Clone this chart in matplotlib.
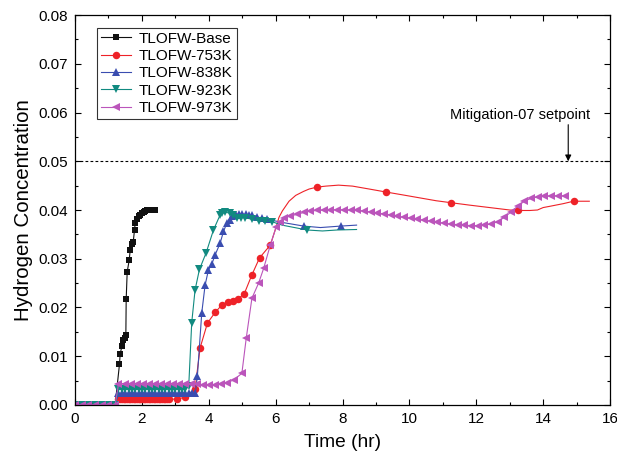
import matplotlib
matplotlib.use("Agg")
import matplotlib.pyplot as plt

plt.rcParams['font.family'] = ['Liberation Sans', 'DejaVu Sans']

# ---------------- data ----------------
base_t = [0.0, 0.1, 0.2, 0.3, 0.4, 0.5, 0.6, 0.7, 0.8, 0.9, 1.0, 1.1, 1.2,
          1.33, 1.35, 1.40, 1.44, 1.48, 1.52, 1.53, 1.56, 1.62, 1.65, 1.70, 1.74,
          1.78, 1.80, 1.85, 1.90, 1.95, 2.00, 2.05, 2.10, 2.16, 2.20, 2.25, 2.30, 2.35, 2.40]
base_y = [0, 0, 0, 0, 0, 0, 0, 0, 0, 0, 0, 0, 0,
          0.0084, 0.0105, 0.0120, 0.0133, 0.0138, 0.0144, 0.0217, 0.0273, 0.0297, 0.0318, 0.0330, 0.0334,
          0.0360, 0.0373, 0.0382, 0.0388, 0.0390, 0.0394, 0.0396, 0.0398, 0.0399, 0.0400, 0.0400, 0.0401, 0.0401, 0.0401]

k753_t = [0.0, 0.2, 0.4, 0.6, 0.8, 1.0, 1.2,
          1.30, 1.35, 1.40, 1.45, 1.50, 1.55, 1.60, 1.65, 1.70, 1.75, 1.80, 1.85, 1.90, 1.95,
          2.00, 2.05, 2.10, 2.15, 2.20, 2.25, 2.30, 2.35, 2.40, 2.45, 2.50, 2.55, 2.60, 2.65,
          2.70, 2.75, 2.80, 3.05, 3.29, 3.59, 3.74, 3.96, 4.19, 4.39, 4.58, 4.72, 4.86, 5.06,
          5.29, 5.52, 5.84, 6.00, 6.10, 6.20, 6.40, 6.60, 6.83, 7.00, 7.24, 7.50, 7.88, 8.30,
          8.80, 9.29, 9.80, 10.30, 10.80, 11.24, 11.80, 12.40, 13.00, 13.26, 13.60, 13.83,
          14.00, 14.23, 14.60, 14.91, 15.20, 15.38]
k753_y = [0, 0, 0, 0, 0, 0, 0,
          0.0012, 0.0012, 0.0012, 0.0012, 0.0012, 0.0012, 0.0012, 0.0012, 0.0012, 0.0012, 0.0012, 0.0012, 0.0012, 0.0012,
          0.0012, 0.0012, 0.0012, 0.0012, 0.0012, 0.0012, 0.0012, 0.0012, 0.0012, 0.0012, 0.0012, 0.0012, 0.0012, 0.0012,
          0.0012, 0.0012, 0.0012, 0.0012, 0.0016, 0.0033, 0.0117, 0.0168, 0.0190, 0.0205, 0.0211, 0.0213, 0.0217, 0.0228,
          0.0267, 0.0302, 0.0328, 0.0362, 0.0385, 0.0398, 0.0418, 0.0430, 0.0438, 0.0443, 0.0447, 0.0449, 0.0451, 0.0449,
          0.0443, 0.0437, 0.0431, 0.0425, 0.0419, 0.0415, 0.0410, 0.0405, 0.0400, 0.0399, 0.0399, 0.0400,
          0.0405, 0.0408, 0.0413, 0.0418, 0.0418, 0.0418]
k753_marked = [7.24, 9.29, 11.24, 13.26, 14.91]

k838_t = [0.0, 0.2, 0.4, 0.6, 0.8, 1.0, 1.2,
          1.3, 1.4, 1.5, 1.6, 1.7, 1.8, 1.9, 2.0, 2.1, 2.2, 2.3, 2.4, 2.5, 2.6, 2.7, 2.8, 2.9,
          3.0, 3.1, 3.2, 3.3, 3.4, 3.5, 3.6, 3.66, 3.79, 3.89, 3.99, 4.09, 4.19, 4.34, 4.44,
          4.54, 4.62, 4.70, 4.80, 4.90, 5.00, 5.10, 5.20, 5.30, 5.44, 5.60, 5.74, 6.24, 6.84,
          7.34, 7.94, 8.42]
k838_y = [0, 0, 0, 0, 0, 0, 0,
          0.0024, 0.0024, 0.0024, 0.0024, 0.0024, 0.0024, 0.0024, 0.0024, 0.0024, 0.0024, 0.0024, 0.0024, 0.0024,
          0.0024, 0.0024, 0.0024, 0.0024, 0.0024, 0.0024, 0.0024, 0.0024, 0.0024, 0.0024, 0.0024,
          0.0060, 0.0189, 0.0246, 0.0277, 0.0289, 0.0308, 0.0332, 0.0356,
          0.0373, 0.0380, 0.0388, 0.0390, 0.0392, 0.0392, 0.0391, 0.0390, 0.0389, 0.0386, 0.0383, 0.0381, 0.0374, 0.0367,
          0.0364, 0.0367, 0.0369]
k838_marked_after = [6.84, 7.94]

k923_t = [0.0, 0.2, 0.4, 0.6, 0.8, 1.0, 1.2,
          1.3, 1.4, 1.5, 1.6, 1.7, 1.8, 1.9, 2.0, 2.1, 2.2, 2.3, 2.4, 2.5, 2.6, 2.7, 2.8, 2.9,
          3.0, 3.1, 3.2, 3.3, 3.40, 3.49, 3.59, 3.72, 3.92, 4.14, 4.34, 4.39, 4.50, 4.62, 4.73,
          4.84, 4.96, 5.09, 5.29, 5.49, 5.69, 5.89, 6.19, 6.94, 7.40, 7.84, 8.42]
k923_y = [0, 0, 0, 0, 0, 0, 0,
          0.0032, 0.0032, 0.0032, 0.0032, 0.0032, 0.0032, 0.0032, 0.0032, 0.0032, 0.0032, 0.0032, 0.0032, 0.0032,
          0.0032, 0.0032, 0.0032, 0.0032, 0.0032, 0.0032, 0.0032, 0.0032, 0.0038, 0.0169, 0.0236, 0.0278, 0.0312,
          0.0359, 0.0390, 0.0393, 0.0395, 0.0394, 0.0390,
          0.0384, 0.0384, 0.0384, 0.0381, 0.0378, 0.0377, 0.0376, 0.0369, 0.0359, 0.0357, 0.0359, 0.0360]
k923_marked_after = [6.94]

k973_t = [0.0, 0.2, 0.4, 0.6, 0.8, 1.0, 1.2,
          1.30, 1.48, 1.66, 1.84, 2.02, 2.20, 2.38, 2.56, 2.74, 2.92, 3.10, 3.28, 3.46, 3.64,
          3.82, 4.00, 4.18, 4.36, 4.54, 4.74, 4.99, 5.12, 5.29, 5.49, 5.64, 5.84, 6.02, 6.14,
          6.24, 6.44, 6.64, 6.84, 7.04, 7.24, 7.44, 7.64, 7.84, 8.04, 8.24, 8.44, 8.64, 8.84,
          9.04, 9.24, 9.44, 9.64, 9.84, 10.04, 10.24, 10.44, 10.64, 10.84, 11.04, 11.24, 11.44,
          11.64, 11.84, 12.04, 12.24, 12.44, 12.64, 12.84, 13.04, 13.24, 13.44, 13.64, 13.84,
          14.04, 14.24, 14.44, 14.64]
k973_y = [0, 0, 0, 0, 0, 0, 0,
          0.0043, 0.0044, 0.0044, 0.0044, 0.0044, 0.0044, 0.0044, 0.0044, 0.0044, 0.0044, 0.0044, 0.0044, 0.0044, 0.0043,
          0.0041, 0.0041, 0.0042, 0.0043, 0.0046, 0.0051, 0.0065, 0.0137, 0.0219, 0.0250, 0.0280, 0.0328, 0.0366, 0.0376,
          0.0383, 0.0388, 0.0391, 0.0395, 0.0398, 0.0399, 0.0400, 0.0400, 0.0401, 0.0400, 0.0400, 0.0399, 0.0398, 0.0396,
          0.0394, 0.0392, 0.0390, 0.0387, 0.0385, 0.0383, 0.0381, 0.0379, 0.0377, 0.0375, 0.0373, 0.0371, 0.0370,
          0.0369, 0.0368, 0.0368, 0.0369, 0.0371, 0.0376, 0.0385, 0.0396, 0.0408, 0.0418, 0.0424, 0.0427,
          0.0428, 0.0429, 0.0429, 0.0429]

labels = ["TLOFW-Base", "TLOFW-753K", "TLOFW-838K", "TLOFW-923K", "TLOFW-973K"]
setpoint = 0.05
setpoint_label = "Mitigation-07 setpoint"
xticks = [0, 2, 4, 6, 8, 10, 12, 14, 16]
yticks = [0.00, 0.01, 0.02, 0.03, 0.04, 0.05, 0.06, 0.07, 0.08]

# ---------------- figure ----------------
fig = plt.figure(figsize=(6.17, 4.62), dpi=100)
ax = fig.add_axes([0.1216, 0.1234, 0.8671, 0.8441])

colors = ['#111111', '#ee2228', '#3a4db0', '#118a80', '#bb55bb']
lw = 0.8

def idx_marked(t, cutoff, extra):
    return [i for i, v in enumerate(t) if v <= cutoff or v in extra]

ax.plot(base_t, base_y, color=colors[0], lw=lw, marker='s', ms=4.6,
        mew=0, label=labels[0])
ax.plot(k753_t, k753_y, color=colors[1], lw=lw, marker='o', ms=5.4, mew=0,
        markevery=idx_marked(k753_t, 5.84, k753_marked), label=labels[1])
ax.plot(k838_t, k838_y, color=colors[2], lw=lw, marker='^', ms=5.8, mew=0,
        markevery=idx_marked(k838_t, 5.74, k838_marked_after), label=labels[2])
ax.plot(k923_t, k923_y, color=colors[3], lw=lw, marker='v', ms=5.8, mew=0,
        markevery=idx_marked(k923_t, 5.89, k923_marked_after), label=labels[3])
ax.plot(k973_t, k973_y, color=colors[4], lw=lw, marker='<', ms=6.2, mew=0,
        label=labels[4])

ax.axhline(setpoint, color='black', lw=0.8, ls=(0, (2.5, 2.0)), zorder=1)
ax.annotate("", xy=(14.75, setpoint), xytext=(14.75, 0.0575),
            arrowprops=dict(arrowstyle='-|>', color='black', lw=0.8,
                            mutation_scale=9, shrinkA=0, shrinkB=0))
ax.text(13.3, 0.0595, setpoint_label, ha='center', va='center', fontsize=10.5)

ax.set_xlim(0, 16)
ax.set_ylim(0, 0.08)
ax.set_xticks(xticks)
ax.set_yticks(yticks)
ax.set_xticklabels([str(v) for v in xticks])
ax.set_yticklabels([f"{v:.2f}" for v in yticks])
ax.set_xticks([v + 1 for v in xticks[:-1]], minor=True)
ax.set_yticks([v + 0.005 for v in yticks[:-1]], minor=True)
ax.tick_params(which='both', direction='in', top=True, right=True, labelsize=11, width=0.8)
ax.tick_params(which='major', length=4.5, pad=5)
ax.tick_params(which='minor', length=2.5)
for s in ax.spines.values():
    s.set_linewidth(0.9)

ax.set_xlabel("Time (hr)", fontsize=13.8, labelpad=6)
ax.set_ylabel("Hydrogen Concentration", fontsize=14.8, labelpad=4)

leg = ax.legend(loc='upper left', bbox_to_anchor=(0.041, 0.967), borderaxespad=0,
                fontsize=11, frameon=True, fancybox=False, edgecolor='black',
                handlelength=2.0, handletextpad=0.5, labelspacing=0.22,
                borderpad=0.25)
leg.get_frame().set_linewidth(0.8)

fig.savefig("out.png", dpi=100)
